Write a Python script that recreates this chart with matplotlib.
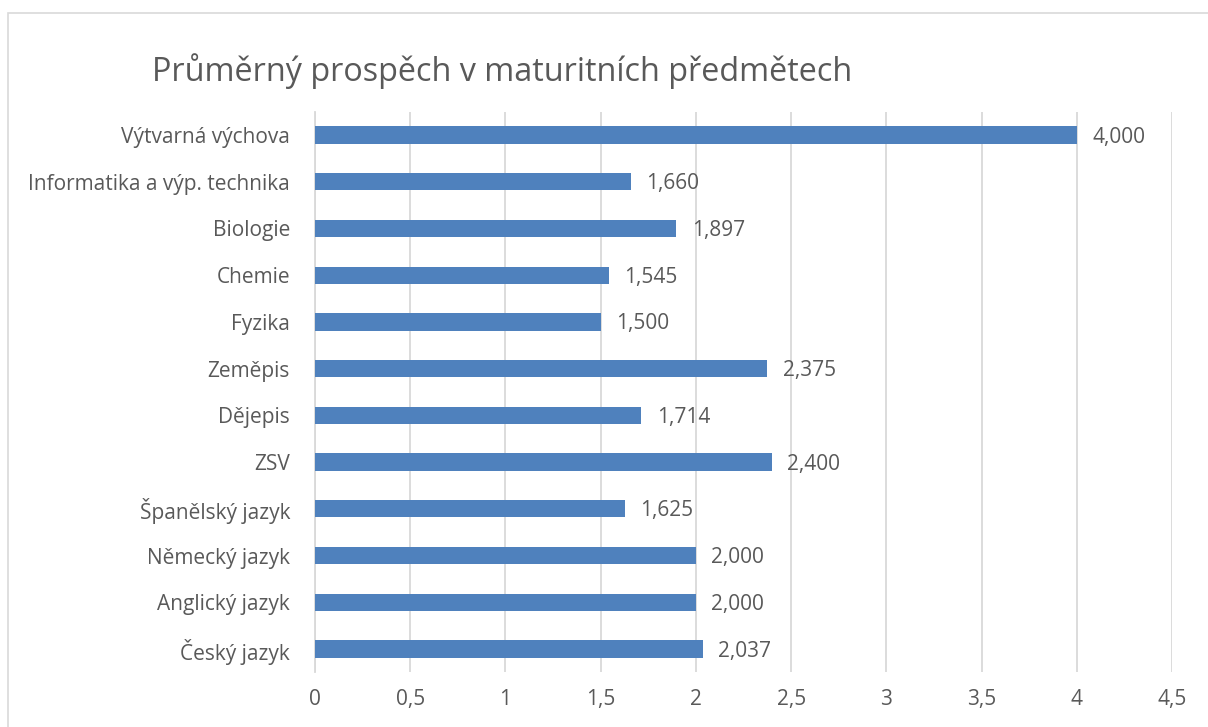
import matplotlib.pyplot as plt
from matplotlib.patches import Rectangle
import numpy as np

# data
subjects = ["Český jazyk", "Anglický jazyk", "Německý jazyk", "Španělský jazyk",
            "ZSV", "Dějepis", "Zeměpis", "Fyzika", "Chemie", "Biologie",
            "Informatika a výp. technika", "Výtvarná výchova"]
values = [2.037, 2.000, 2.000, 1.625, 2.400, 1.714, 2.375, 1.500, 1.545, 1.897,
          1.660, 4.000]
xticks = [0, 0.5, 1, 1.5, 2, 2.5, 3, 3.5, 4, 4.5]
xticklabels = ["0", "0,5", "1", "1,5", "2", "2,5", "3", "3,5", "4", "4,5"]

plt.rcParams['font.family'] = ['Open Sans', 'DejaVu Sans']
txt = '#595959'

fig = plt.figure(figsize=(12.08, 7.27), dpi=100)
ax = fig.add_axes([0.2608, 0.0751, 0.7094, 0.7714])

# chart border (cut off on right/bottom like the screenshot)
fig.patches.append(Rectangle((8 / 1208, -0.1), 1.2, 1 - 13 / 727 + 0.1,
                             transform=fig.transFigure, fill=False,
                             edgecolor='#D9D9D9', linewidth=1.2))

y = np.arange(len(subjects))
ax.barh(y, values, height=0.37, color='#4F81BD', zorder=3)

for yi, v in zip(y, values):
    ax.annotate(f"{v:.3f}".replace('.', ','), (v, yi), xytext=(11, -1.5),
                textcoords='offset points', va='center', ha='left',
                fontsize=15, color=txt)

ax.set_xlim(0, 4.5)
ax.set_ylim(-0.5, len(subjects) - 0.5)
ax.set_xticks(xticks)
ax.set_xticklabels(xticklabels)
ax.set_yticks(y)
ax.set_yticklabels(subjects)
ax.tick_params(axis='both', length=0, labelsize=15, colors=txt)
ax.tick_params(axis='x', pad=12)
ax.tick_params(axis='y', pad=18)

ax.grid(axis='x', color='#D9D9D9', linewidth=1.3, zorder=0)
for s in ['top', 'right', 'bottom']:
    ax.spines[s].set_visible(False)
ax.spines['left'].set_color('#D9D9D9')
ax.spines['left'].set_linewidth(1.3)

fig.text(152 / 1208, 1 - 71 / 727, "Průměrný prospěch v maturitních předmětech",
         fontsize=23.3, color=txt, va='center', ha='left')

fig.savefig('out.png', dpi=100, facecolor='white')
